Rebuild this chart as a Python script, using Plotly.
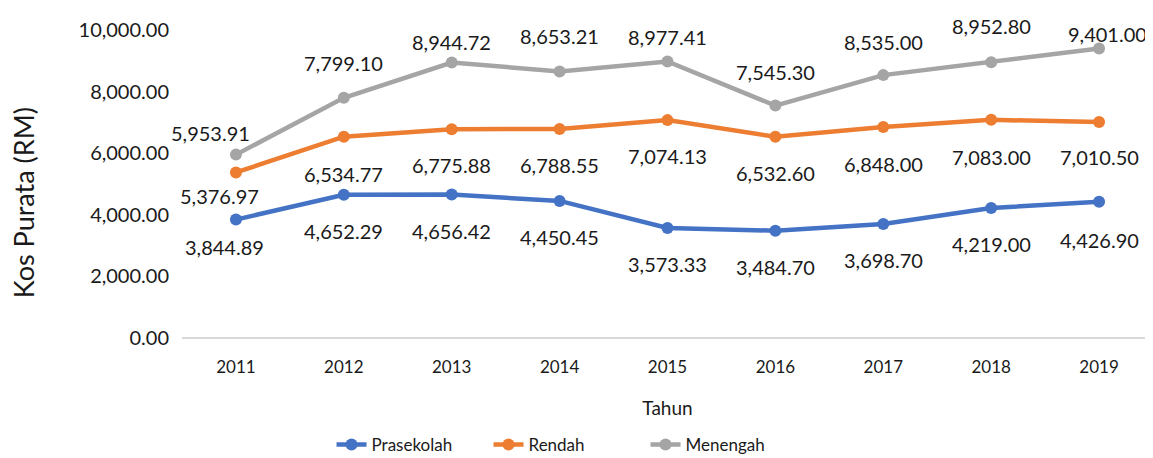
import plotly.graph_objects as go

# ── data ─────────────────────────────────────────────────────────────────────
years = ["2011", "2012", "2013", "2014", "2015", "2016", "2017", "2018", "2019"]

prasekolah = [3844.89, 4652.29, 4656.42, 4450.45, 3573.33, 3484.70, 3698.70, 4219.00, 4426.90]
rendah     = [5376.97, 6534.77, 6775.88, 6788.55, 7074.13, 6532.60, 6848.00, 7083.00, 7010.50]
menengah   = [5953.91, 7799.10, 8944.72, 8653.21, 8977.41, 7545.30, 8535.00, 8952.80, 9401.00]

y_ticks = [0, 2000, 4000, 6000, 8000, 10000]

# ── style ────────────────────────────────────────────────────────────────────
FONT = "Lato, 'Open Sans', sans-serif"
TXT  = "#1a1a1a"

# data-label placement (px) as hand-nudged in the original chart
LABEL_DY = {
    "Prasekolah": [-27, -36, -36, -36, -36, -36, -36, -36, -38],
    "Rendah":     [-24, -37, -36, -36, -36, -36, -37, -37, -35],
    "Menengah":   [ 22,  35,  21,  35,  25,  34,  33,  36,  14],
}
LABEL_DX = {
    "Prasekolah": [-11, 0, 0, 0, 0, 0, 0, 0, 0],
    "Rendah":     [-16, 0, 0, 0, 0, 0, 0, 0, 0],
    "Menengah":   [-25, 0, 0, 0, 0, 0, 0, 0, 8],
}

SERIES = [
    ("Prasekolah", prasekolah, "#4472C4"),
    ("Rendah",     rendah,     "#ED7D31"),
    ("Menengah",   menengah,   "#A5A5A5"),
]

fig = go.Figure()

for name, vals, color in SERIES:
    fig.add_trace(go.Scatter(
        x      = years,
        y      = vals,
        name   = name,
        mode   = "lines+markers",
        line   = dict(color=color, width=4.5),
        marker = dict(size=12, color=color),
        cliponaxis = False,
    ))
    # numeric-looking category names would be read as indices -> use index
    for i, v in enumerate(vals):
        fig.add_annotation(
            x=i, y=v, text=f"{v:,.2f}",
            showarrow=False,
            xshift=LABEL_DX[name][i], yshift=LABEL_DY[name][i],
            font=dict(family=FONT, size=20, color=TXT),
        )

# y title sits a little below the plot centre in the original
fig.add_annotation(
    xref="paper", yref="paper", x=-0.163, y=0.44,
    text="Kos Purata (RM)", textangle=-90, showarrow=False,
    xanchor="center", yanchor="middle",
    font=dict(family=FONT, size=27, color=TXT),
)

# page body adds an 8px margin, so the margins are trimmed to suit;
# autoexpand off so the legend doesn't squeeze the plot
fig.update_layout(
    width  = 1153,
    height = 458,
    margin = dict(l=174, r=8, t=22, b=128, autoexpand=False),
    paper_bgcolor = "white",
    plot_bgcolor  = "white",
    font = dict(family=FONT, size=19, color=TXT),
    xaxis = dict(
        type = "category",
        range = [-0.5, len(years) - 0.5],
        title = dict(text="Tahun", font=dict(size=19), standoff=25),
        tickfont = dict(size=17),
        showgrid = False,
        showline = False,
        zeroline = False,
        automargin = False,
        ticklabelstandoff = 17,
    ),
    yaxis = dict(
        range = [0, 10000],
        tickvals = y_ticks,
        tickformat = ",.2f",
        tickfont = dict(size=20),
        showgrid = False,
        zeroline = True,
        zerolinecolor = "#d9d9d9",
        zerolinewidth = 2,
        showline = False,
        automargin = False,
        ticklabelstandoff = 12,
    ),
    legend = dict(
        orientation = "h",
        x = 0.154, xanchor = "left",
        y = -0.347, yanchor = "middle",
        font = dict(size=17),
        entrywidth = 112,
        tracegroupgap = 0,
    ),
)

fig.write_html("out.html")
